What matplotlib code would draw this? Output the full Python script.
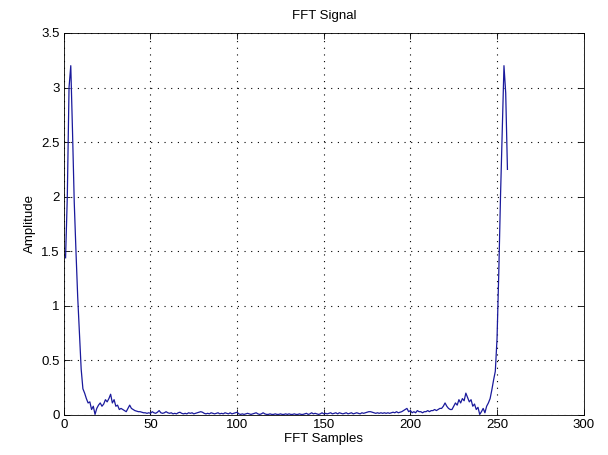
import numpy as np
import matplotlib.pyplot as plt
from matplotlib.ticker import FuncFormatter

# FFT magnitude, samples 1..256
amp_1_64 = [
    1.44, 2.00, 3.00, 3.20, 2.60, 1.95, 1.50, 1.08, 0.75, 0.42, 0.24, 0.20, 0.15, 0.11, 0.12, 0.05,
    0.08, 0.005, 0.06, 0.09, 0.11, 0.08, 0.10, 0.14, 0.12, 0.15, 0.19, 0.11, 0.14, 0.08, 0.09, 0.05,
    0.06, 0.05, 0.04, 0.03, 0.06, 0.09, 0.06, 0.05, 0.04, 0.035, 0.03, 0.03, 0.025, 0.02, 0.02, 0.015,
    0.02, 0.015, 0.03, 0.02, 0.015, 0.025, 0.04, 0.02, 0.015, 0.02, 0.03, 0.02, 0.015, 0.02, 0.01, 0.015,
]
amp_65_128 = [
    0.01, 0.02, 0.025, 0.015, 0.01, 0.015, 0.01, 0.02, 0.015, 0.02, 0.01, 0.015, 0.02, 0.025, 0.03, 0.025,
    0.015, 0.01, 0.015, 0.01, 0.02, 0.015, 0.01, 0.015, 0.02, 0.01, 0.015, 0.01, 0.02, 0.015, 0.01, 0.02,
    0.01, 0.015, 0.02, 0.025, 0.01, 0.005, 0.01, 0.005, 0.01, 0.015, 0.01, 0.005, 0.01, 0.015, 0.02, 0.01,
    0.005, 0.01, 0.02, 0.01, 0.005, 0.005, 0.01, 0.005, 0.005, 0.01, 0.005, 0.005, 0.01, 0.005, 0.005, 0.01,
]
amp_129_192 = [
    0.005, 0.01, 0.005, 0.005, 0.01, 0.005, 0.005, 0.01, 0.005, 0.005, 0.01, 0.015, 0.005, 0.01, 0.02, 0.01,
    0.015, 0.01, 0.005, 0.01, 0.02, 0.01, 0.015, 0.01, 0.015, 0.02, 0.01, 0.015, 0.02, 0.01, 0.02, 0.015,
    0.01, 0.015, 0.02, 0.01, 0.015, 0.02, 0.01, 0.015, 0.02, 0.015, 0.01, 0.02, 0.015, 0.02, 0.025, 0.03,
    0.03, 0.025, 0.02, 0.015, 0.02, 0.015, 0.02, 0.015, 0.02, 0.015, 0.02, 0.015, 0.02, 0.025, 0.02, 0.03,
]
amp_193_256 = [
    0.02, 0.025, 0.03, 0.04, 0.05, 0.06, 0.03, 0.04, 0.02, 0.03, 0.02, 0.04, 0.03, 0.03, 0.02, 0.03,
    0.03, 0.04, 0.03, 0.04, 0.04, 0.05, 0.04, 0.05, 0.06, 0.06, 0.08, 0.11, 0.08, 0.06, 0.05, 0.05,
    0.08, 0.11, 0.09, 0.14, 0.11, 0.15, 0.13, 0.20, 0.16, 0.12, 0.14, 0.08, 0.10, 0.05, 0.07, 0.005,
    0.03, 0.06, 0.02, 0.08, 0.11, 0.15, 0.23, 0.32, 0.40, 0.70, 1.30, 2.00, 2.60, 3.20, 2.95, 2.25,
]
amplitude = amp_1_64 + amp_65_128 + amp_129_192 + amp_193_256
samples = np.arange(1, len(amplitude) + 1)

x_ticks = [0, 50, 100, 150, 200, 250, 300]
y_ticks = [0, 0.5, 1, 1.5, 2, 2.5, 3, 3.5]

plt.rcParams['font.family'] = ['Liberation Sans', 'DejaVu Sans']
plt.rcParams['font.size'] = 9

fig = plt.figure(figsize=(6.08, 4.55), dpi=100)
ax = fig.add_axes([0.105, 0.088, 0.855, 0.8396])

ax.plot(samples, amplitude, color='#1a1a9c', linewidth=0.9)

ax.set_xlim(0, 300)
ax.set_ylim(0, 3.5)
ax.set_xticks(x_ticks)
ax.set_yticks(y_ticks)
ax.yaxis.set_major_formatter(FuncFormatter(lambda v, p: '%g' % v))
ax.tick_params(direction='in', top=True, right=True, length=4, width=0.6,
               labelsize=9.5, pad=3)
for s in ax.spines.values():
    s.set_linewidth(0.6)

# MATLAB style sparse dotted grid
ax.grid(True, linestyle=(0, (1, 5)), color='black', linewidth=0.8)

ax.set_title('FFT Signal', fontsize=9.5, pad=10)
ax.set_xlabel('FFT Samples', fontsize=9.5, labelpad=1)
ax.set_ylabel('Amplitude', fontsize=9.5, labelpad=4)

fig.savefig('out.png', dpi=100)
